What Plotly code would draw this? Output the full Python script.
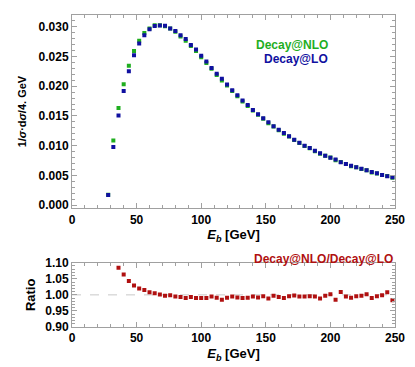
import plotly.graph_objects as go

# beam energy bins (GeV)
e_b = [28, 32, 36, 40, 44, 48, 52, 56, 60, 64, 68, 72, 76, 80, 84, 88, 92, 96,
       100, 104, 108, 112, 116, 120, 124, 128, 132, 136, 140, 144, 148, 152,
       156, 160, 164, 168, 172, 176, 180, 184, 188, 192, 196, 200, 204, 208,
       212, 216, 220, 224, 228, 232, 236, 240, 244, 248]

decay_lo = [0.0017, 0.00978, 0.01508, 0.01918, 0.02251, 0.0252, 0.02716, 0.02857,
            0.02956, 0.03011, 0.0302, 0.03016, 0.02972, 0.0293, 0.02857, 0.02792,
            0.02694, 0.02618, 0.02513, 0.02415, 0.02306, 0.02208, 0.02126, 0.02028,
            0.0193, 0.01847, 0.01759, 0.01683, 0.01601, 0.0153, 0.01459, 0.01393,
            0.01328, 0.01267, 0.01213, 0.01159, 0.01098, 0.01049, 0.0100, 0.00962,
            0.00913, 0.00874, 0.00831, 0.00798, 0.00766, 0.00721, 0.00693, 0.00661,
            0.00639, 0.00611, 0.00585, 0.00557, 0.00536, 0.00508, 0.00487, 0.0047]

decay_nlo = [0.00175, 0.01087, 0.01634, 0.02033, 0.02344, 0.0259, 0.02765, 0.02896,
             0.0297, 0.03026, 0.03023, 0.03007, 0.02969, 0.02915, 0.02837, 0.02764,
             0.02675, 0.02592, 0.02488, 0.0239, 0.02294, 0.02188, 0.02094, 0.0201,
             0.0192, 0.01832, 0.01741, 0.01668, 0.01593, 0.01518, 0.01453, 0.01378,
             0.01324, 0.01258, 0.01201, 0.01154, 0.01096, 0.01044, 0.00995, 0.00958,
             0.00908, 0.00864, 0.00829, 0.008, 0.00754, 0.00727, 0.0069, 0.00655,
             0.00637, 0.00609, 0.00586, 0.00551, 0.00534, 0.00508, 0.00491, 0.00462]

ratio_e = e_b[2:]
ratio = [1.084, 1.063, 1.043, 1.029, 1.020, 1.015, 1.008, 1.005, 1.001, 0.997,
         0.999, 0.995, 0.993, 0.990, 0.993, 0.990, 0.990, 0.990, 0.995, 0.991,
         0.985, 0.991, 0.995, 0.992, 0.990, 0.991, 0.995, 0.992, 0.996, 0.989,
         0.997, 0.993, 0.990, 0.996, 0.998, 0.995, 0.995, 0.996, 0.995, 0.989,
         0.997, 1.002, 0.985, 1.009, 0.995, 0.991, 0.996, 0.997, 1.002, 0.990,
         0.996, 0.999, 1.008, 0.983]

GREEN = "#1fae1f"
BLUE = "#1010a0"
RED = "#b01010"
FRAME = "#a0a0a0"
FONT = "Liberation Sans"

fig = go.Figure()
fig.add_trace(go.Scatter(x=e_b, y=decay_nlo, mode="markers", xaxis="x", yaxis="y",
                         marker=dict(symbol="square", size=4, color=GREEN)))
fig.add_trace(go.Scatter(x=e_b, y=decay_lo, mode="markers", xaxis="x", yaxis="y",
                         marker=dict(symbol="square", size=4, color=BLUE)))
fig.add_trace(go.Scatter(x=ratio_e, y=ratio, mode="markers", xaxis="x2", yaxis="y2",
                         marker=dict(symbol="square", size=4, color=RED)))

tickfont = dict(family=FONT, size=12, color="black", weight="bold")
titlefont = dict(family=FONT, size=13, color="black", weight="bold")

common_x = dict(range=[0, 250], tickvals=[0, 50, 100, 150, 200, 250],
                ticks="inside", ticklen=5, tickcolor=FRAME, mirror="allticks",
                showline=True, linecolor=FRAME, linewidth=1, showgrid=False,
                zeroline=False, tickfont=tickfont,
                minor=dict(dtick=10, ticks="inside", ticklen=3, tickcolor=FRAME),
                title=dict(text="<i>E<sub>b</sub></i> [GeV]", font=titlefont, standoff=4))

common_y = dict(ticks="inside", ticklen=5, tickcolor=FRAME, mirror="allticks",
                showline=True, linecolor=FRAME, linewidth=1, showgrid=False,
                zeroline=False, tickfont=tickfont)

fig.update_layout(
    width=415, height=367,
    margin=dict(l=72, r=20, t=8, b=39),
    paper_bgcolor="white", plot_bgcolor="white",
    showlegend=False,
    xaxis=dict(common_x, domain=[0, 1], anchor="y"),
    yaxis=dict(common_y, domain=[0.381, 1], anchor="x", range=[-0.0005, 0.03197],
               tickvals=[0, 0.005, 0.01, 0.015, 0.02, 0.025, 0.03], tickformat=".3f",
               minor=dict(dtick=0.001, ticks="inside", ticklen=3, tickcolor=FRAME),
               title=dict(text="1/<i>σ</i>·d<i>σ</i>/4. GeV",
                          font=dict(family=FONT, size=11, color="black", weight="bold"),
                          standoff=9)),
    xaxis2=dict(common_x, domain=[0, 1], anchor="y2"),
    yaxis2=dict(common_y, domain=[0, 0.206], anchor="x2", range=[0.9, 1.1],
                tickvals=[0.9, 0.95, 1.0, 1.05, 1.1], tickformat=".2f",
                minor=dict(dtick=0.01, ticks="inside", ticklen=3, tickcolor=FRAME),
                title=dict(text="Ratio", font=titlefont, standoff=6)),
)

fig.add_shape(type="line", xref="x2", yref="y2", x0=0, x1=250, y0=1.0, y1=1.0,
              line=dict(color="#c8c8c8", width=1, dash="dash"), layer="below")

fig.add_annotation(text="Decay@NLO", xref="paper", yref="paper", x=0.799, y=0.934,
                   showarrow=False, font=dict(family=FONT, size=12, color=GREEN, weight="bold"))
fig.add_annotation(text="Decay@LO", xref="paper", yref="paper", x=0.799, y=0.887,
                   showarrow=False, font=dict(family=FONT, size=12, color=BLUE, weight="bold"))
fig.add_annotation(text="Decay@NLO/Decay@LO", xref="paper", yref="paper", x=1.0, y=0.19,
                   xanchor="right", showarrow=False,
                   font=dict(family=FONT, size=12, color=RED, weight="bold"))

fig.write_html("out.html", config={"displayModeBar": False},
               post_script="document.body.style.margin='0';")
